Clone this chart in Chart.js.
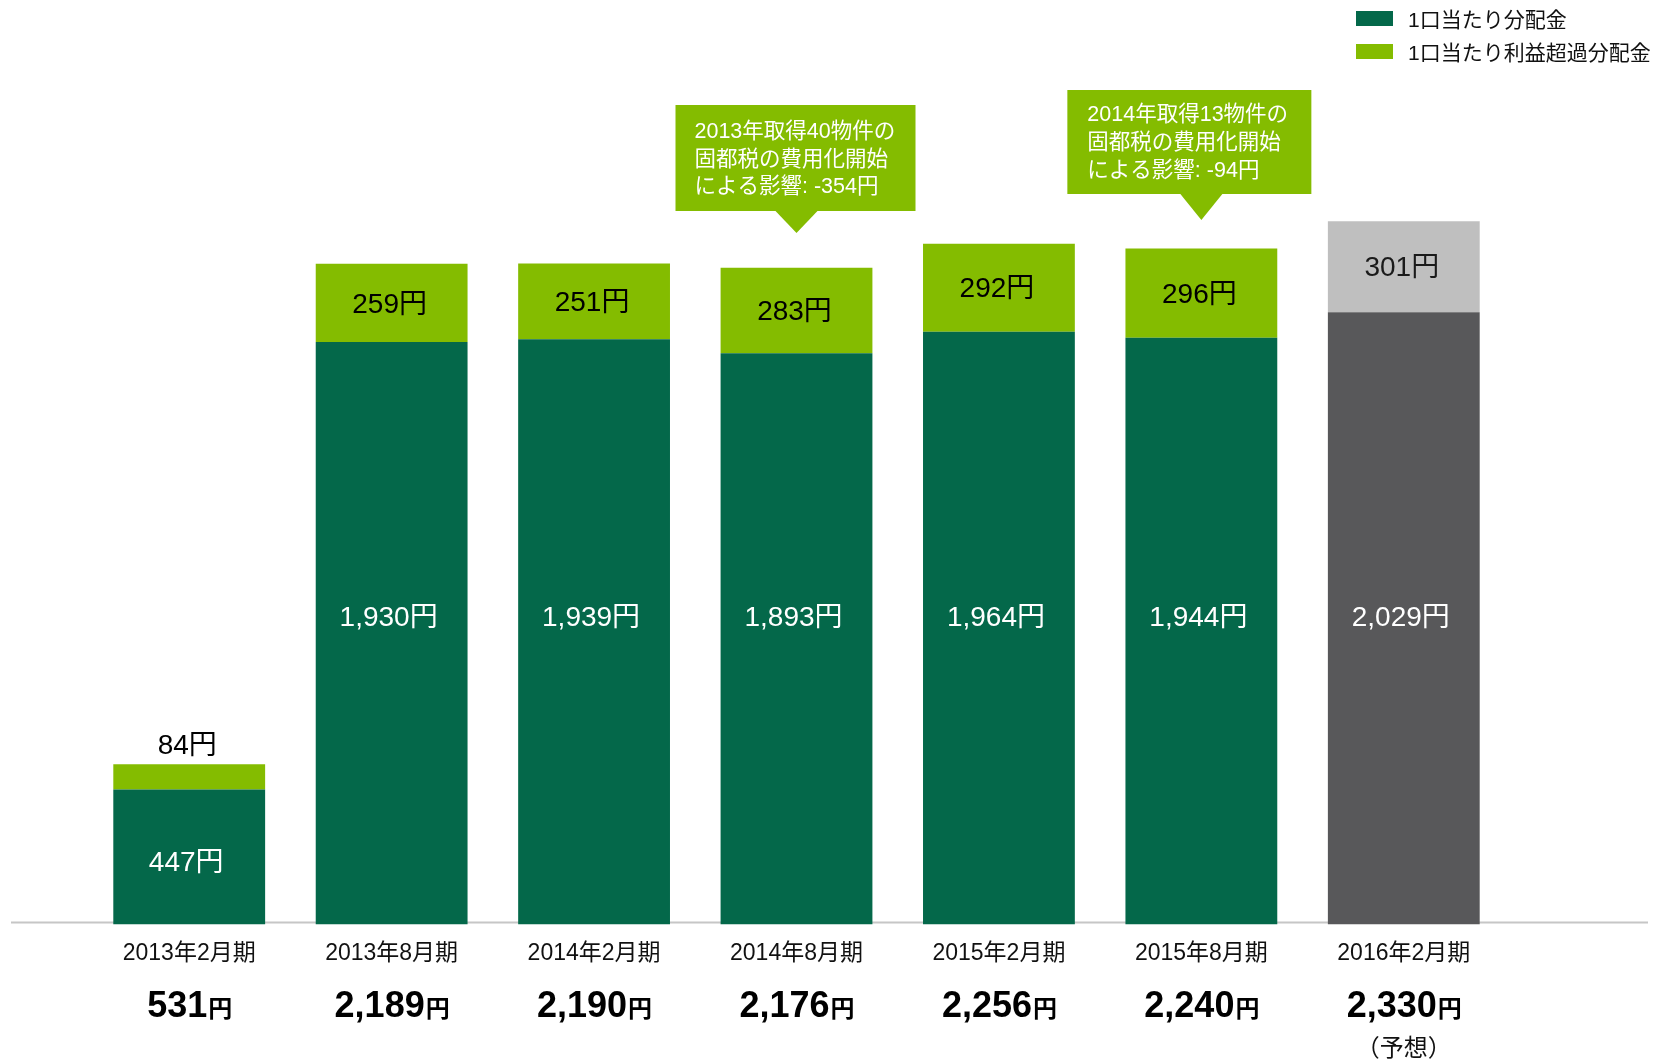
<!DOCTYPE html>
<html>
<head>
<meta charset="utf-8">
<script src="https://cdn.jsdelivr.net/npm/chart.js@4.4.1/dist/chart.umd.min.js"></script>
<style>
  html, body { margin: 0; padding: 0; background: #fff; }
  #wrap { position: relative; width: 1663px; height: 1060px; }
  canvas { position: absolute; left: 0; top: 0; }
  .lg { position: absolute; left: 1356px; height: 30px; font: 21px 'Liberation Sans', 'Noto Sans CJK JP', sans-serif; color: #111; display: flex; align-items: center; }
  .lg span.box { display: inline-block; width: 37px; height: 15px; margin-right: 15px; }
</style>
</head>
<body>
<div id="wrap">
  <canvas id="c" width="1663" height="1060"></canvas>
  <div class="lg" style="top:3px"><span class="box" style="background:#04684A"></span><span id="lg1"></span></div>
  <div class="lg" style="top:36px"><span class="box" style="background:#84BC00"></span><span id="lg2"></span></div>
</div>
<script>
const categories = ["2013年2月期", "2013年8月期", "2014年2月期", "2014年8月期", "2015年2月期", "2015年8月期", "2016年2月期"];
const distribution = [447, 1930, 1939, 1893, 1964, 1944, 2029];
const excessDistribution = [84, 259, 251, 283, 292, 296, 301];
const totals = [531, 2189, 2190, 2176, 2256, 2240, 2330];
const seriesNames = ["1口当たり分配金", "1口当たり利益超過分配金"];
const forecastNote = "（予想）";
const callouts = [
  { index: 3, lines: ["2013年取得40物件の", "固都税の費用化開始", "による影響: -354円"] },
  { index: 5, lines: ["2014年取得13物件の", "固都税の費用化開始", "による影響: -94円"] }
];

document.getElementById('lg1').textContent = seriesNames[0];
document.getElementById('lg2').textContent = seriesNames[1];

const FONT = "'Liberation Sans', 'Noto Sans CJK JP', sans-serif";
const DARK = '#04684A', LIGHT = '#84BC00', GRAY_D = '#58585A', GRAY_L = '#BFBFBF';
const last = categories.length - 1;

function fmt(n) { return n.toLocaleString('en-US'); }

const decor = {
  id: 'decor',
  beforeDatasetsDraw(chart) {
    const ctx = chart.ctx;
    const y0 = chart.scales.y.getPixelForValue(0);
    ctx.save();
    ctx.strokeStyle = '#C6C6C6';
    ctx.lineWidth = 2;
    ctx.beginPath();
    ctx.moveTo(11, y0 - 2);
    ctx.lineTo(1648, y0 - 2);
    ctx.stroke();
    ctx.restore();
  },
  afterDatasetsDraw(chart) {
    const ctx = chart.ctx;
    const xs = chart.scales.x;
    const m0 = chart.getDatasetMeta(0).data;
    const m1 = chart.getDatasetMeta(1).data;
    ctx.save();
    for (let i = 0; i < categories.length; i++) {
      const b0 = m0[i], b1 = m1[i];
      ctx.textAlign = 'center';
      ctx.textBaseline = 'middle';
      ctx.font = '28px ' + FONT;
      // base segment label
      ctx.fillStyle = '#FFFFFF';
      const yb = distribution[i] > 1000 ? 618 : (b0.y + b0.base) / 2 + 6;
      ctx.fillText(fmt(distribution[i]) + '円', b0.x - 3, yb);
      // excess label
      ctx.fillStyle = i === last ? '#1A1A1A' : '#000000';
      const ye = excessDistribution[i] < 150 ? b1.y - 18 : (b1.y + b1.base) / 2 + 2;
      ctx.fillText(fmt(excessDistribution[i]) + '円', b1.x - 2, ye);

      // totals
      const x = xs.getPixelForValue(i);
      const num = fmt(totals[i]);
      ctx.textBaseline = 'alphabetic';
      ctx.font = 'bold 36px ' + FONT;
      const w1 = ctx.measureText(num).width;
      ctx.font = 'bold 24px ' + FONT;
      const w2 = ctx.measureText('円').width;
      const sx = x - (w1 + w2) / 2;
      ctx.textAlign = 'left';
      ctx.fillStyle = '#000';
      ctx.font = 'bold 36px ' + FONT;
      ctx.fillText(num, sx, 1017);
      ctx.font = 'bold 24px ' + FONT;
      ctx.fillText('円', sx + w1 + 1, 1017);
      if (i === last) {
        ctx.textAlign = 'center';
        ctx.font = '24px ' + FONT;
        ctx.fillStyle = '#111';
        ctx.fillText(forecastNote, x, 1056);
      }
    }

    // callouts
    const boxes = [
      { top: 105, h: 106, left: -121, w: 240, tipY: 233, textX: -102, lineY: [132, 160, 187] },
      { top: 90, h: 104, left: -134, w: 244, tipY: 220, textX: -114, lineY: [115, 143, 171] }
    ];
    callouts.forEach((c, k) => {
      const bx = xs.getPixelForValue(c.index);
      const g = boxes[k];
      ctx.fillStyle = LIGHT;
      ctx.fillRect(bx + g.left, g.top, g.w, g.h);
      ctx.beginPath();
      ctx.moveTo(bx - 21, g.top + g.h);
      ctx.lineTo(bx + 21, g.top + g.h);
      ctx.lineTo(bx, g.tipY);
      ctx.closePath();
      ctx.fill();
      ctx.fillStyle = '#FFFFFF';
      ctx.font = '21.5px ' + FONT;
      ctx.textAlign = 'left';
      ctx.textBaseline = 'middle';
      c.lines.forEach((ln, j) => ctx.fillText(ln, bx + g.textX, g.lineY[j]));
    });
    ctx.restore();
  }
};

new Chart(document.getElementById('c'), {
  type: 'bar',
  data: {
    labels: categories,
    datasets: [
      {
        label: seriesNames[0],
        data: distribution,
        backgroundColor: categories.map((_, i) => i === last ? GRAY_D : DARK),
        barPercentage: 0.75,
        categoryPercentage: 1.0
      },
      {
        label: seriesNames[1],
        data: excessDistribution,
        backgroundColor: categories.map((_, i) => i === last ? GRAY_L : LIGHT),
        barPercentage: 0.75,
        categoryPercentage: 1.0
      }
    ]
  },
  options: {
    responsive: false,
    animation: false,
    devicePixelRatio: 1,
    layout: { padding: { left: 88, right: 158, top: 170, bottom: 78 } },
    plugins: { legend: { display: false }, tooltip: { enabled: false } },
    scales: {
      x: {
        stacked: true,
        grid: { display: false, drawTicks: false },
        border: { display: false },
        ticks: { padding: 15, color: '#111', font: { size: 23, family: FONT } }
      },
      y: {
        stacked: true,
        display: false,
        min: 0,
        max: 2500
      }
    }
  },
  plugins: [decor]
});
</script>
</body>
</html>
